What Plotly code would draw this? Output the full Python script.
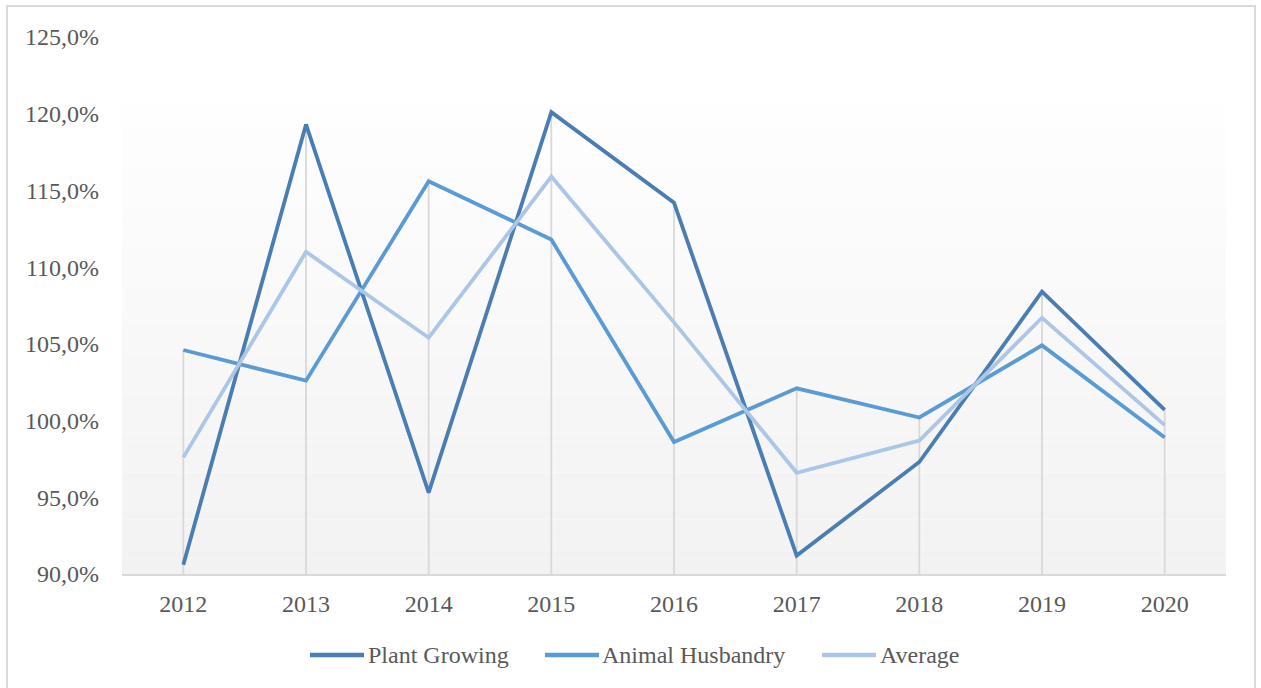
import plotly.graph_objects as go

# Annual growth index by sector, %
years = ["2012", "2013", "2014", "2015", "2016", "2017", "2018", "2019", "2020"]
plant_growing = [90.6, 119.3, 95.3, 120.1, 114.2, 91.2, 97.3, 108.4, 100.7]
animal_husbandry = [104.6, 102.6, 115.6, 111.8, 98.6, 102.1, 100.2, 104.9, 98.9]
average = [97.6, 111.0, 105.4, 115.9, 106.4, 96.6, 98.7, 106.7, 99.7]

y_tick_values = [90, 95, 100, 105, 110, 115, 120, 125]
y_tick_labels = ["90,0%", "95,0%", "100,0%", "105,0%", "110,0%", "115,0%", "120,0%", "125,0%"]

FONT = "Times New Roman"
FONT_SIZE = 24
TEXT_COLOR = "#595959"
GRID_COLOR = "#d9d9d9"
Y_MIN, Y_MAX = 90, 125

W, H = 1261, 688
ML, MR, MT, MB = 122, 35, 37, 114
PW, PH = W - ML - MR, H - MT - MB


def px_to_paper_x(px):
    return (px - ML) / PW


def px_to_paper_y(py):
    return (H - MB - py) / PH


fig = go.Figure()

# Drop lines: from the highest series value in each year down to the axis
drop_x, drop_y = [], []
for i, yr in enumerate(years):
    top = max(plant_growing[i], animal_husbandry[i], average[i])
    drop_x += [yr, yr, None]
    drop_y += [Y_MIN, top, None]
fig.add_trace(go.Scatter(
    x=drop_x, y=drop_y, mode="lines",
    line=dict(color=GRID_COLOR, width=1.8),
    hoverinfo="skip", showlegend=False,
))

series = [
    ("Plant Growing", plant_growing, "#4a7eb3"),
    ("Animal Husbandry", animal_husbandry, "#5b9bd5"),
    ("Average", average, "#abc6e6"),
]
for name, vals, color in series:
    fig.add_trace(go.Scatter(
        x=years, y=vals, mode="lines", name=name,
        line=dict(color=color, width=3.8),
        showlegend=False,
    ))

shapes = []

# Soft vertical gradient behind the plot area
grad_top = 120.5
steps = 60
for k in range(steps):
    y0 = Y_MIN + (grad_top - Y_MIN) * k / steps
    y1 = Y_MIN + (grad_top - Y_MIN) * (k + 1) / steps
    t = k / (steps - 1)
    g = round(242 + (254 - 242) * t)
    shapes.append(dict(
        type="rect", xref="paper", yref="y", x0=0, x1=1, y0=y0, y1=y1,
        fillcolor=f"rgb({g},{g},{g})", line=dict(width=0), layer="below",
    ))

# Outer chart border
shapes.append(dict(
    type="rect", xref="paper", yref="paper",
    x0=px_to_paper_x(7), x1=px_to_paper_x(1255),
    y0=px_to_paper_y(700), y1=px_to_paper_y(6),
    line=dict(color=GRID_COLOR, width=2), fillcolor="rgba(0,0,0,0)", layer="below",
))

# Legend row: line sample followed by the series name
legend_y = px_to_paper_y(655)
legend_slots = [(310, 364, 367), (545, 599, 601), (822, 876, 879)]
annotations = []
for (name, _, color), (sx0, sx1, tx) in zip(series, legend_slots):
    shapes.append(dict(
        type="line", xref="paper", yref="paper",
        x0=px_to_paper_x(sx0), x1=px_to_paper_x(sx1), y0=legend_y, y1=legend_y,
        line=dict(color=color, width=4.5),
    ))
    annotations.append(dict(
        text=name, xref="paper", yref="paper",
        x=px_to_paper_x(tx), y=legend_y, xanchor="left", yanchor="middle",
        showarrow=False, borderpad=0,
        font=dict(family=FONT, size=FONT_SIZE, color=TEXT_COLOR),
    ))

fig.update_layout(
    width=W, height=H,
    margin=dict(l=ML, r=MR, t=MT, b=MB),
    paper_bgcolor="white", plot_bgcolor="white",
    font=dict(family=FONT, size=FONT_SIZE, color=TEXT_COLOR),
    shapes=shapes,
    annotations=annotations,
    showlegend=False,
    xaxis=dict(
        type="category", categoryorder="array", categoryarray=years,
        range=[-0.5, len(years) - 0.5],
        showgrid=False, zeroline=False,
        showline=True, linecolor=GRID_COLOR, linewidth=2,
        ticks="", ticklabelstandoff=7,
        tickfont=dict(family=FONT, size=FONT_SIZE, color=TEXT_COLOR),
    ),
    yaxis=dict(
        range=[Y_MIN, Y_MAX],
        tickvals=y_tick_values, ticktext=y_tick_labels,
        showgrid=False, zeroline=False, showline=False,
        ticks="", ticklabelstandoff=22,
        tickfont=dict(family=FONT, size=FONT_SIZE, color=TEXT_COLOR),
    ),
)

fig.write_html("out.html")
